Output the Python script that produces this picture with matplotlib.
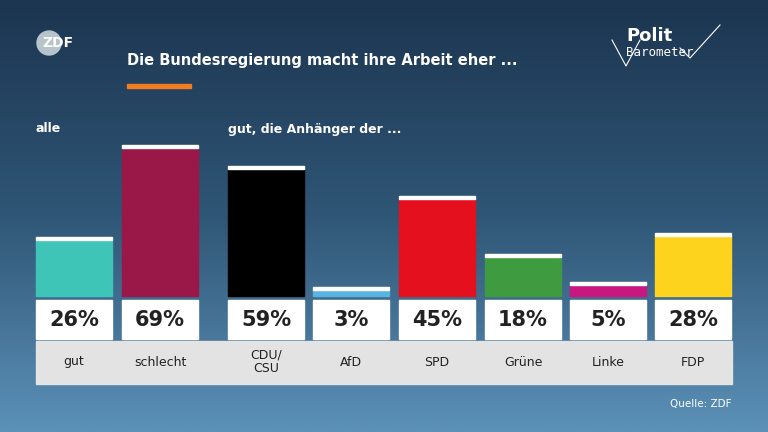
import numpy as np
import matplotlib.pyplot as plt
from matplotlib.patches import Rectangle
from matplotlib.colors import LinearSegmentedColormap

labels = ["gut", "schlecht", "CDU/\nCSU", "AfD", "SPD", "Grüne", "Linke", "FDP"]
values = [26, 69, 59, 3, 45, 18, 5, 28]
colors = ["#3fc4b8", "#9a1847", "#000000", "#5ab4e0", "#e5101e", "#3f9b3f", "#c8177f", "#fdd31e"]
lefts = [36, 122, 228, 313, 399, 485, 570, 655]

W, H = 768, 432
BAR_W = 76
BASE = 296
PX_PER = 148 / 69

fig = plt.figure(figsize=(W / 100, H / 100), dpi=100)
ax = fig.add_axes([0, 0, 1, 1])
ax.set_xlim(0, W); ax.set_ylim(H, 0); ax.set_axis_off()

# background gradient
grad = np.linspace(0, 1, 256).reshape(-1, 1)
cmap = LinearSegmentedColormap.from_list("bg", ["#1c3550", "#2f5676", "#5c91b8"])
ax.imshow(grad, cmap=cmap, extent=[0, W, H, 0], aspect="auto", zorder=0)

# header
ax.add_patch(plt.Circle((49, 43), 12, color="#b8c4cc", zorder=2))
ax.text(58, 43, "ZDF", color="white", fontsize=10, fontweight="bold", va="center", ha="center", zorder=3)
ax.text(127, 60, "Die Bundesregierung macht ihre Arbeit eher ...", color="white",
        fontsize=10.5, fontweight="bold", va="center")
ax.add_patch(Rectangle((127, 84), 64, 4, color="#f07d1e"))
ax.text(626, 36, "Polit", color="white", fontsize=13, fontweight="bold", va="center")
ax.text(626, 53, "Barometer", color="white", fontsize=9, va="center", family="DejaVu Sans Mono")
ax.plot([612, 626, 640], [40, 66, 40], color="white", lw=0.8)
ax.plot([680, 690, 720], [48, 58, 25], color="white", lw=0.8)

ax.text(36, 129, "alle", color="white", fontsize=9, fontweight="bold", va="center")
ax.text(228, 129, "gut, die Anhänger der ...", color="white", fontsize=9, fontweight="bold", va="center")

# label strip
ax.add_patch(Rectangle((36, 341), 732 - 36, 43, color="#e3e3e3", zorder=1))

for l, v, c, lab in zip(lefts, values, colors, labels):
    h = v * PX_PER
    ax.add_patch(Rectangle((l, BASE - h), BAR_W, h, color=c, zorder=2))
    ax.add_patch(Rectangle((l, BASE - h - 3), BAR_W, 3, color="white", zorder=3))
    ax.add_patch(Rectangle((l, 300), BAR_W, 39, color="white", zorder=2))
    ax.text(l + BAR_W / 2, 320, f"{v}%", fontsize=15, fontweight="bold", color="#222222",
            ha="center", va="center", zorder=4)
    ax.text(l + BAR_W / 2, 362, lab, fontsize=9, color="#222222",
            ha="center", va="center", zorder=4, linespacing=1.1)

ax.text(732, 404, "Quelle: ZDF", color="white", fontsize=7.5, ha="right", va="center")

fig.savefig("out.png", dpi=100)
